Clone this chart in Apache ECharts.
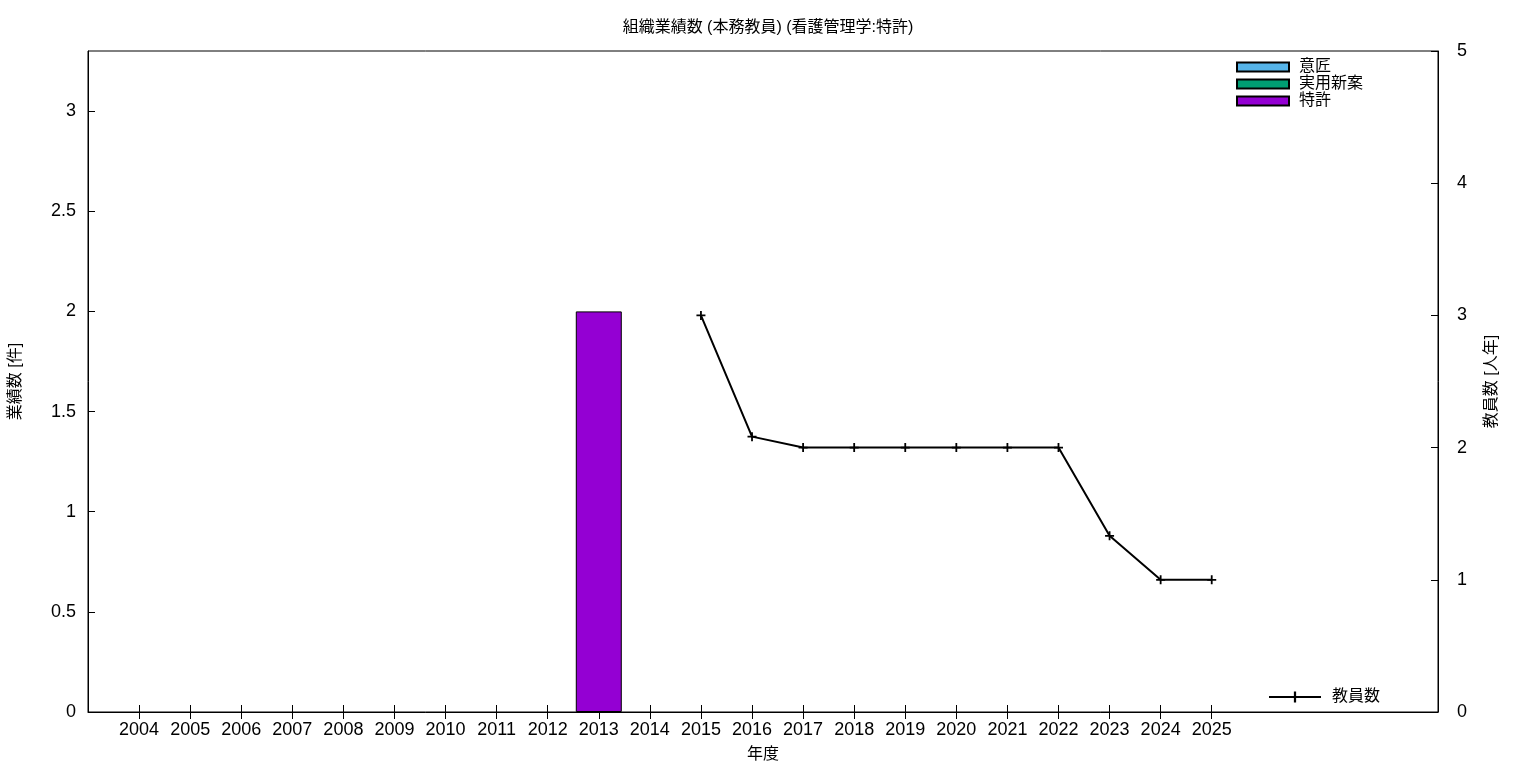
<!DOCTYPE html>
<html>
<head>
<meta charset="utf-8">
<script src="https://cdn.jsdelivr.net/npm/echarts@6/dist/echarts.min.js"></script>
<style>html,body{margin:0;padding:0;background:#fff;}#c{width:1536px;height:768px;}</style>
</head>
<body>
<div id="c"></div>
<script>
const years = [2004,2005,2006,2007,2008,2009,2010,2011,2012,2013,2014,2015,2016,2017,2018,2019,2020,2021,2022,2023,2024,2025];
const design  = [0,0,0,0,0,0,0,0,0,0,0,0,0,0,0,0,0,0,0,0,0,0];
const utility = [0,0,0,0,0,0,0,0,0,0,0,0,0,0,0,0,0,0,0,0,0,0];
const patent  = [0,0,0,0,0,0,0,0,0,2,0,0,0,0,0,0,0,0,0,0,0,0];
const faculty = [null,null,null,null,null,null,null,null,null,null,null,3,2.083,2,2,2,2,2,2,1.333,1,1];
const leftTicks = [0,0.5,1,1.5,2,2.5,3];
const rightTicks = [0,1,2,3,4,5];

const FONT = '"Liberation Sans", "Noto Sans CJK JP", sans-serif';
const pairs = arr => years.map((y,i) => [y, arr[i] ? arr[i] : null]);
const linePairs = years.map((y,i) => [y, faculty[i]]);
const plus = 'path://M4,0 H6 V4 H10 V6 H6 V10 H4 V6 H0 V4 H4 Z';

const chart = echarts.init(document.getElementById('c'));
const barStyle = c => ({color: c, borderColor: '#000', borderWidth: 1});
chart.setOption({
  animation: false,
  backgroundColor: '#fff',
  textStyle: {fontFamily: FONT},
  title: {
    text: '組織業績数 (本務教員) (看護管理学:特許)',
    left: 'center', top: 15,
    textStyle: {fontFamily: FONT, fontSize: 16, fontWeight: 'normal', color: '#000'}
  },
  grid: {left: 88, right: 98, top: 51, bottom: 55, show: true, borderColor: '#000', borderWidth: 1, containLabel: false},
  legend: [
    {
      data: ['意匠','実用新案','特許'],
      orient: 'vertical', left: 1236, top: 59, padding: 0,
      itemWidth: 52, itemHeight: 9, itemGap: 1,
      icon: 'rect',
      textStyle: {fontFamily: FONT, fontSize: 16, lineHeight: 16, color: '#000', padding: [0,0,0,5]}
    },
    {
      data: ['教員数'],
      left: 1268, top: 689, padding: 0,
      itemWidth: 52, itemHeight: 14,
      textStyle: {fontFamily: FONT, fontSize: 16, color: '#000', padding: [0,0,0,6]}
    }
  ],
  xAxis: [
    {
      type: 'value', min: 2003, max: 2029.43, interval: 1, position: 'bottom',
      name: '年度', nameLocation: 'middle', nameGap: 35,
      nameTextStyle: {fontFamily: FONT, fontSize: 16, color: '#000'},
      axisLine: {show: true, onZero: false, lineStyle: {color: '#000', width: 1}},
      axisTick: {show: true, inside: true, length: 7, customValues: years, lineStyle: {color: '#000'}},
      axisLabel: {show: true, customValues: years, margin: 9, fontFamily: FONT, fontSize: 18, color: '#000', formatter: v => String(v)},
      splitLine: {show: false}
    },
    {
      type: 'value', min: 2003, max: 2029.43, interval: 1, position: 'top',
      axisLine: {show: false},
      axisTick: {show: true, inside: true, length: 7, customValues: years, lineStyle: {color: '#000'}},
      axisLabel: {show: false},
      splitLine: {show: false}
    }
  ],
  yAxis: [
    {
      type: 'value', min: 0, max: 3.3, interval: 0.5, position: 'left',
      name: '業績数 [件]', nameLocation: 'middle', nameGap: 64, nameRotate: 90,
      nameTextStyle: {fontFamily: FONT, fontSize: 16, color: '#000'},
      axisLine: {show: true, lineStyle: {color: '#000'}},
      axisTick: {show: true, inside: true, length: 7, customValues: leftTicks, lineStyle: {color: '#000'}},
      axisLabel: {customValues: leftTicks, margin: 12, fontFamily: FONT, fontSize: 18, color: '#000'},
      splitLine: {show: false}
    },
    {
      type: 'value', min: 0, max: 5, interval: 1, position: 'right',
      name: '教員数 [人年]', nameLocation: 'middle', nameGap: 46, nameRotate: 90,
      nameTextStyle: {fontFamily: FONT, fontSize: 16, color: '#000'},
      axisLine: {show: true, lineStyle: {color: '#000'}},
      axisTick: {show: true, inside: true, length: 7, customValues: rightTicks, lineStyle: {color: '#000'}},
      axisLabel: {customValues: rightTicks, margin: 19, fontFamily: FONT, fontSize: 18, color: '#000'},
      splitLine: {show: false}
    }
  ],
  series: [
    {name: '意匠', type: 'bar', stack: 'a', xAxisIndex: 0, yAxisIndex: 0, barWidth: 46, itemStyle: barStyle('#56b4e9'), data: pairs(design)},
    {name: '実用新案', type: 'bar', stack: 'a', xAxisIndex: 0, yAxisIndex: 0, barWidth: 46, itemStyle: barStyle('#009e73'), data: pairs(utility)},
    {name: '特許', type: 'bar', stack: 'a', xAxisIndex: 0, yAxisIndex: 0, barWidth: 46, itemStyle: barStyle('#9400d3'), data: pairs(patent)},
    {
      name: '教員数', type: 'line', xAxisIndex: 0, yAxisIndex: 1,
      symbol: plus, symbolSize: 9, showSymbol: true,
      lineStyle: {color: '#000', width: 2},
      itemStyle: {color: '#000'},
      data: linePairs
    }
  ]
});
</script>
</body>
</html>
